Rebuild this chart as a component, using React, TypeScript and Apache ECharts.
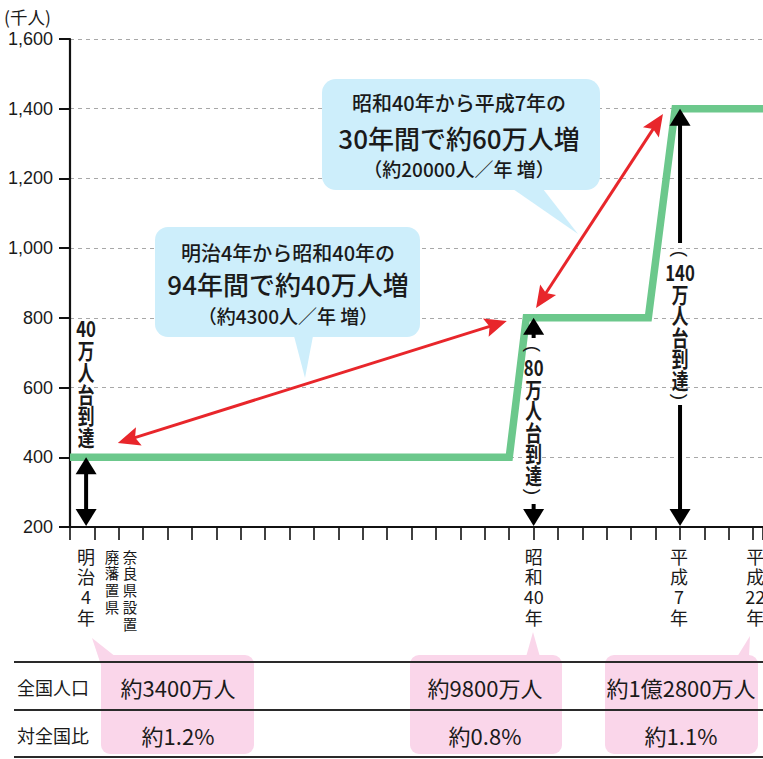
import { useEffect, useRef } from "react";
import * as echarts from "echarts";

// Population (thousand people), drawn as a stepped outline
const lineYears = [1870, 1960, 1963.5, 1988.5, 1994, 2012];
const lineValues = [400, 400, 800, 800, 1400, 1400];

const Y_MIN = 200;
const Y_MAX = 1600;
const Y_STEP = 200;
const X_MIN = 1870;
const X_MAX = 2012;
const X_STEP = 5;

// Milestone arrows ("…万人台到達")
const milestoneYears = [1873.3, 1965, 1995];
const milestoneValues = [400, 800, 1400];
const milestoneRows = [
  ["40", "万", "人", "台", "到", "達"],
  ["80", "万", "人", "台", "到", "達"],
  ["140", "万", "人", "台", "到", "達"],
];
const milestoneParens = [false, true, true];

// Red increase arrows: [year, value] at each end
const spanStarts = [
  [1879.8, 441],
  [1965.5, 828],
];
const spanEnds = [
  [1959.5, 791],
  [1991.5, 1385],
];

// Labels under the time axis
const eventRows = [
  ["明", "治", "4", "年"],
  ["廃", "藩", "置", "県"],
  ["奈", "良", "県", "設", "置"],
  ["昭", "和", "40", "年"],
  ["平", "成", "7", "年"],
  ["平", "成", "22", "年"],
];
const eventYears = [1873.3, 1878.6, 1882.3, 1965, 1994.8, 2010.4];
const eventMinor = [false, true, true, false, false, false];

const calloutLines = [
  ["明治4年から昭和40年の", "94年間で約40万人増", "（約4300人／年 増）"],
  ["昭和40年から平成7年の", "30年間で約60万人増", "（約20000人／年 増）"],
];

const tableHeads = ["全国人口", "対全国比"];
const nationPop = ["約3400万人", "約9800万人", "約1億2800万人"];
const nationShare = ["約1.2%", "約0.8%", "約1.1%"];

const CJK = '"Noto Sans CJK JP", "Noto Sans", sans-serif';
const GREEN = "#6cc88c";
const RED = "#e8262b";
const BLUE_BUBBLE = "#cdeefb";
const PINK = "#fad6ea";
const INK = "#1a1a1a";

type Pt = [number, number];

function text(
  x: number,
  y: number,
  str: string,
  size: number,
  opt: {
    weight?: string | number;
    align?: string;
    vAlign?: string;
    lineHeight?: number;
    scaleX?: number;
    rotation?: number;
    z?: number;
    family?: string;
  } = {}
) {
  const style: any = {
    text: str,
    fill: INK,
    fontSize: size,
    fontFamily: opt.family ?? CJK,
    fontWeight: opt.weight ?? "normal",
    textAlign: opt.align ?? "center",
    textVerticalAlign: opt.vAlign ?? "middle",
  };
  if (opt.lineHeight) style.lineHeight = opt.lineHeight;
  return {
    type: "text",
    x,
    y,
    z: opt.z ?? 40,
    scaleX: opt.scaleX ?? 1,
    rotation: opt.rotation ?? 0,
    style,
  };
}

function arrow(
  a: Pt,
  b: Pt,
  color: string,
  width: number,
  headLen: number,
  headW: number,
  headA: boolean,
  headB: boolean,
  notch: number,
  z: number
) {
  const out: any[] = [];
  const dx = b[0] - a[0];
  const dy = b[1] - a[1];
  const len = Math.hypot(dx, dy);
  const ux = dx / len;
  const uy = dy / len;
  const nx = -uy;
  const ny = ux;
  const s: Pt = headA ? [a[0] + ux * headLen * 0.7, a[1] + uy * headLen * 0.7] : a;
  const e: Pt = headB ? [b[0] - ux * headLen * 0.7, b[1] - uy * headLen * 0.7] : b;
  out.push({
    type: "line",
    z,
    shape: { x1: s[0], y1: s[1], x2: e[0], y2: e[1] },
    style: { stroke: color, lineWidth: width },
  });
  const head = (tip: Pt, dxu: number, dyu: number) => {
    const bx = tip[0] - dxu * headLen;
    const by = tip[1] - dyu * headLen;
    return {
      type: "polygon",
      z: z + 1,
      shape: {
        points: [
          tip,
          [bx + (nx * headW) / 2, by + (ny * headW) / 2],
          [tip[0] - dxu * headLen * notch, tip[1] - dyu * headLen * notch],
          [bx - (nx * headW) / 2, by - (ny * headW) / 2],
        ],
      },
      style: { fill: color },
    };
  };
  if (headA) out.push(head(a, -ux, -uy));
  if (headB) out.push(head(b, ux, uy));
  return out;
}

// Vertical (tategaki) caption: glyphs stacked one per line, digits kept upright
// side by side, optional parentheses turned a quarter so they open along the column.
function verticalLabel(cx: number, top: number, rows: string[], parens: boolean, pitch: number) {
  const out: any[] = [];
  const parenH = 14;
  let y = top;
  const paren = (ch: string, cy: number) =>
    text(cx, cy, ch, 19, {
      rotation: -Math.PI / 2,
      z: 60,
      family: '"Liberation Sans", Arial, sans-serif',
    });
  if (parens) {
    out.push(paren("(", y + parenH / 2));
    y += parenH;
  }
  out.push(
    text(cx, y, rows.join("\n"), 22, {
      weight: "bold",
      vAlign: "top",
      lineHeight: pitch,
      scaleX: 0.76,
      z: 60,
    })
  );
  y += rows.length * pitch;
  if (parens) out.push(paren(")", y + parenH / 2));
  return out;
}

export default function App() {
  const ref = useRef<HTMLDivElement>(null);

  useEffect(() => {
    if (!ref.current) return;
    const chart = echarts.init(ref.current, null, { renderer: "svg" });

    chart.setOption({
      animation: false,
      grid: { left: 70, right: 0, top: 39, bottom: 232, containLabel: false },
      xAxis: {
        type: "value",
        min: X_MIN,
        max: X_MAX,
        interval: X_STEP,
        axisLine: { show: true, lineStyle: { color: "#111", width: 2.2 } },
        axisTick: { show: true, inside: false, length: 13, lineStyle: { color: "#111", width: 1.6 } },
        axisLabel: { show: false },
        splitLine: { show: false },
      },
      yAxis: {
        type: "value",
        min: Y_MIN,
        max: Y_MAX,
        interval: Y_STEP,
        axisLine: { show: true, lineStyle: { color: "#111", width: 2.2 } },
        axisTick: { show: true, inside: false, length: 11, lineStyle: { color: "#111", width: 2 } },
        axisLabel: {
          color: INK,
          fontSize: 18,
          fontFamily: '"Liberation Sans", Arial, sans-serif',
          margin: 17,
          formatter: (v: number) => v.toLocaleString("en-US"),
        },
        splitLine: { show: true, lineStyle: { color: "#a8a8a8", width: 1, type: [4, 4] } },
      },
      series: [
        {
          type: "line",
          data: lineYears.map((y, i) => [y, lineValues[i]]),
          showSymbol: false,
          symbol: "none",
          lineStyle: { color: GREEN, width: 7.5, join: "miter" },
          z: 3,
        },
      ],
    });

    const px = (x: number, y: number): Pt => chart.convertToPixel({ gridIndex: 0 }, [x, y]) as Pt;
    const g: any[] = [];

    // unit caption
    g.push(text(4, 16, "(千人)", 17.5, { align: "left" }));

    // speech bubbles
    const bubbles = [
      { x: 155, y: 227, w: 265, h: 110, r: 13, tail: [[294, 336], [313, 336], [305, 378]], cx: 288, ys: [252, 283, 315] },
      { x: 322, y: 79, w: 278, h: 111, r: 14, tail: [[513, 189], [543, 189], [578, 234]], cx: 459, ys: [102, 137, 168] },
    ];
    bubbles.forEach((b, i) => {
      g.push({ type: "rect", z: 30, shape: { x: b.x, y: b.y, width: b.w, height: b.h, r: b.r }, style: { fill: BLUE_BUBBLE } });
      g.push({ type: "polygon", z: 30, shape: { points: b.tail }, style: { fill: BLUE_BUBBLE } });
      const [l1, l2, l3] = calloutLines[i];
      g.push(text(b.cx, b.ys[0], l1, 20, { z: 31, weight: 500 }));
      g.push(text(b.cx, b.ys[1], l2, 26, { z: 31, weight: 500 }));
      g.push(text(b.cx, b.ys[2], l3, 19, { z: 31, weight: 500 }));
    });

    // red increase arrows
    spanStarts.forEach((s, i) => {
      const a = px(s[0], s[1]);
      const b = px(spanEnds[i][0], spanEnds[i][1]);
      g.push(...arrow(a, b, RED, 3, 22, 19, true, true, 0.82, 45));
    });

    // black milestone arrows and their vertical captions
    const axisY = px(X_MIN, Y_MIN)[1] - 1;
    const m0 = px(milestoneYears[0], milestoneValues[0]);
    g.push(...arrow([m0[0], m0[1]], [m0[0], axisY], "#000", 4, 17, 21, true, true, 1, 50));
    g.push(...verticalLabel(m0[0], 317, milestoneRows[0], milestoneParens[0], 21.7));

    const m1 = px(milestoneYears[1], milestoneValues[1]);
    g.push(...arrow([m1[0], m1[1]], [m1[0], 338], "#000", 4, 17, 21, true, false, 1, 50));
    g.push(...arrow([m1[0], 504], [m1[0], axisY], "#000", 4, 17, 21, false, true, 1, 50));
    g.push(...verticalLabel(m1[0], 342, milestoneRows[1], milestoneParens[1], 21.5));

    const m2 = px(milestoneYears[2], milestoneValues[2]);
    g.push(...arrow([m2[0], m2[1]], [m2[0], 243], "#000", 4, 17, 21, true, false, 1, 50));
    g.push(...arrow([m2[0], 405], [m2[0], axisY], "#000", 4, 17, 21, false, true, 1, 50));
    g.push(...verticalLabel(m2[0], 247, milestoneRows[2], milestoneParens[2], 21.5));

    // labels under the axis, one glyph per line
    eventRows.forEach((rows, i) => {
      const x = px(eventYears[i], Y_MIN)[0];
      const minor = eventMinor[i];
      const size = minor ? 14.5 : 18;
      const pitch = minor ? 16.8 : 20.2;
      g.push(text(x, 556 - pitch / 2, rows.join("\n"), size, { vAlign: "top", lineHeight: pitch, z: 40 }));
    });

    // table: pink highlight boxes with pointers
    const boxes = [
      { x: 101, w: 153, tail: [[92, 638], [116, 657], [101, 665]] },
      { x: 410, w: 152, tail: [[526, 657], [533, 632], [540, 657]] },
      { x: 605, w: 153, tail: [[737, 657], [750, 636], [749, 657]] },
    ];
    const colCenters = [178, 485, 681];
    boxes.forEach((b) => {
      g.push({ type: "rect", z: 20, shape: { x: b.x, y: 655, width: b.w, height: 99, r: 9 }, style: { fill: PINK } });
      g.push({ type: "polygon", z: 20, shape: { points: b.tail }, style: { fill: PINK } });
    });
    [662, 710, 757].forEach((ly) => {
      g.push({ type: "line", z: 22, shape: { x1: 14, y1: ly, x2: 763, y2: ly }, style: { stroke: "#2a2a2a", lineWidth: 2 } });
    });
    g.push(text(17, 687, tableHeads[0], 18, { align: "left", z: 24 }));
    g.push(text(17, 735, tableHeads[1], 18, { align: "left", z: 24 }));
    nationPop.forEach((t, i) => g.push(text(colCenters[i], 687, t, 22, { z: 24 })));
    nationShare.forEach((t, i) => g.push(text(colCenters[i], 735, t, 22, { z: 24 })));

    chart.setOption({ graphic: { elements: g } });

    return () => chart.dispose();
  }, []);

  return <div ref={ref} style={{ position: "absolute", left: 0, top: 0, width: 763, height: 759 }} />;
}
